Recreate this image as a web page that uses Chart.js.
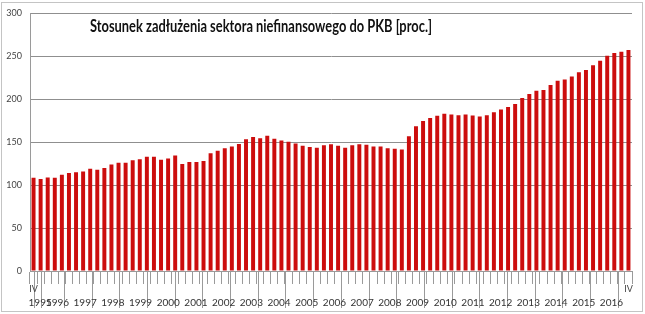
<!DOCTYPE html>
<html>
<head>
<meta charset="utf-8">
<script src="https://cdn.jsdelivr.net/npm/chart.js@4"></script>
<style>
  body { margin: 0; background: #fff; }
  #wrap { width: 645px; height: 314px; position: relative; }
</style>
</head>
<body>
<div id="wrap"><canvas id="debtChart"></canvas></div>
<script>
// tytul i dane (kwartalnie, IV kw. 1995 - IV kw. 2016)
const chartTitle = 'Stosunek zadłużenia sektora niefinansowego do PKB [proc.]';
const yearLabels = ['1995', '1996', '1997', '1998', '1999', '2000', '2001', '2002', '2003', '2004', '2005',
    '2006', '2007', '2008', '2009', '2010', '2011', '2012', '2013', '2014', '2015', '2016'];
const quarterNames = ['I', 'II', 'III', 'IV'];
const yTicks = [0, 50, 100, 150, 200, 250, 300];
const debtRatio = [
    108.5,                          // 1995 IV
    107, 109, 108.5, 112,           // 1996
    114, 115, 116, 119,             // 1997
    118, 120, 124, 126,             // 1998
    126, 129, 130, 133,             // 1999
    133, 129.5, 131, 134.5,         // 2000
    124.5, 127, 127, 128,           // 2001
    137, 140, 143, 145,             // 2002
    148, 153.5, 156, 154.5,         // 2003
    157.5, 154, 152, 150.5,         // 2004
    148.5, 146, 144.5, 143.5,       // 2005
    146.5, 147.5, 146, 143.5,       // 2006
    146.5, 147.5, 147, 145,         // 2007
    145, 143, 142.5, 141.5,         // 2008
    157, 168.5, 174.8, 178.2,       // 2009
    180.7, 183, 182.3, 181.5,       // 2010
    182.3, 181.2, 180, 181.5,       // 2011
    185, 188, 191, 194.5,           // 2012
    201.5, 206, 210, 210.8,         // 2013
    216.5, 221.5, 223, 226.5,       // 2014
    231.5, 234, 239.5, 245,         // 2015
    250.8, 253.8, 255.4, 257.3      // 2016
];

// etykiety kategorii: kwartal + rok
var quarterLabels = [];
var barYears = [];
for (let y of yearLabels) {
    for (let q of quarterNames) {
        if (y === '1995' && q !== 'IV') continue;
        quarterLabels.push(q);
        barYears.push(y);
    }
}

// granice i srodki lat na osi pomocniczej (w jednostkach slupkow)
var yearBounds = [0];
var yearCenters = {};
for (let i = 0; i < barYears.length; i++) {
    if (i === barYears.length - 1 || barYears[i + 1] !== barYears[i]) {
        let start = yearBounds[yearBounds.length - 1];
        yearCenters[(start + i + 1) / 2] = barYears[i];
        yearBounds.push(i + 1);
    }
}

const axisGray = '#9a9a9a';
const txtFont = "'Lato', 'Open Sans', sans-serif";

const framePlugin = {
    id: 'frame',
    beforeDraw(chart) {
        const c = chart.ctx;
        c.save();
        c.fillStyle = '#fff';
        c.fillRect(0, 0, chart.width, chart.height);
        c.strokeStyle = '#c4c4c4';
        c.lineWidth = 1;
        c.strokeRect(1.5, 2.5, chart.width - 4, chart.height - 5);
        c.restore();
    },
    afterDraw(chart) {
        // tytul wewnatrz obszaru wykresu, lekko zwezony jak Calibri
        const c = chart.ctx;
        c.save();
        c.font = "bold 16.5px " + txtFont;
        c.fillStyle = '#111';
        c.textAlign = 'center';
        c.textBaseline = 'middle';
        let w = c.measureText(chartTitle).width;
        let sx = 342 / w;
        c.translate(chart.chartArea.left + 231, chart.chartArea.top + 13.5);
        c.scale(sx, 1);
        c.fillText(chartTitle, 0, 0);
        c.restore();
    }
};

const ctx = document.getElementById('debtChart').getContext('2d');
const myChart = new Chart(ctx, {
    type: 'bar',
    data: {
        labels: quarterLabels,
        datasets: [{
            label: 'Zadłużenie / PKB',
            data: debtRatio,
            backgroundColor: '#cc0d0d',
            barPercentage: 0.56,
            categoryPercentage: 1.0
        }]
    },
    options: {
        responsive: true,
        maintainAspectRatio: false,
        animation: false,
        layout: { padding: { top: 6, right: 13, bottom: 3, left: 1 } },
        plugins: {
            legend: { display: false },
            tooltip: { enabled: false }
        },
        scales: {
            y: {
                min: 0,
                max: 300,
                afterBuildTicks: axis => { axis.ticks = yTicks.map(v => ({ value: v })); },
                afterFit: axis => { axis.width = 29; },
                ticks: { font: { size: 9, family: txtFont }, color: '#444', padding: 8 },
                grid: { color: '#8f8f8f', drawTicks: false },
                border: { color: axisGray }
            },
            x: {
                type: 'category',
                position: { y: 0 },
                offset: true,
                grid: { drawOnChartArea: false, tickLength: 12, color: axisGray, offset: true },
                border: { color: axisGray },
                ticks: {
                    autoSkip: false,
                    maxRotation: 0,
                    padding: 1,
                    font: { size: 9, family: txtFont },
                    color: '#444',
                    callback: function (val, i) {
                        return (i === 0 || i === quarterLabels.length - 1) ? quarterLabels[i] : '';
                    }
                }
            },
            years: {
                type: 'linear',
                position: 'bottom',
                min: 0,
                max: quarterLabels.length,
                afterBuildTicks: axis => {
                    let t = yearBounds.map(v => ({ value: v }));
                    for (let k in yearCenters) t.push({ value: parseFloat(k) });
                    t.sort((a, b) => a.value - b.value);
                    axis.ticks = t;
                },
                afterFit: axis => { axis.height = 40; },
                grid: {
                    drawOnChartArea: false,
                    tickLength: 37,
                    color: c => (c.tick && yearBounds.includes(c.tick.value)) ? axisGray : 'rgba(0,0,0,0)'
                },
                border: { color: axisGray },
                ticks: {
                    autoSkip: false,
                    maxRotation: 0,
                    padding: -11,
                    font: { size: 10, family: txtFont },
                    color: '#333',
                    callback: v => yearCenters[v] || ''
                }
            }
        }
    },
    plugins: [framePlugin]
});
</script>
</body>
</html>
